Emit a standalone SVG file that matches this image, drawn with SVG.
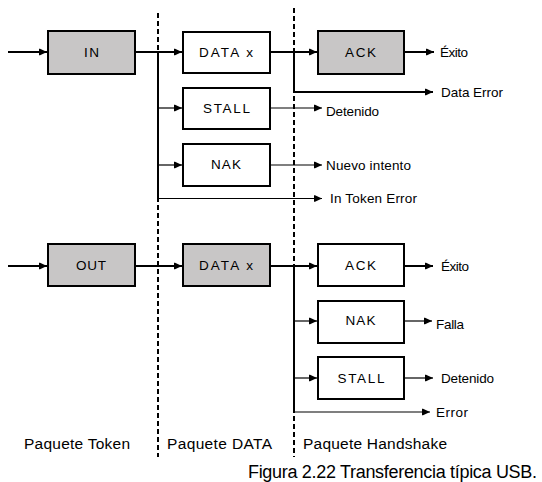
<svg xmlns="http://www.w3.org/2000/svg" width="542" height="482" viewBox="0 0 542 482">
<defs>
<marker id="ah" markerUnits="userSpaceOnUse" markerWidth="10" markerHeight="8" refX="9" refY="4" orient="auto">
<path d="M1,0.8 H2 L9,4 L2,7.2 H1 Z" fill="#000"/>
</marker>
<style>
.box{stroke:#000;stroke-width:2}
.g{fill:#c8c6c6}
.w{fill:#fff}
.bl{font-family:"Liberation Sans",Arial,sans-serif;font-size:13.5px;fill:#000;text-anchor:middle}
.lb{font-family:"Liberation Sans",Arial,sans-serif;font-size:13.5px;fill:#000}
.pk{font-family:"Liberation Sans",Arial,sans-serif;font-size:15.5px;fill:#000}
.thick{fill:none;stroke:#000;stroke-width:2}
.thin{fill:none;stroke:#000;stroke-width:1.2}
.dash{fill:none;stroke:#000;stroke-width:2;stroke-dasharray:5,3}
</style>
</defs>
<rect width="542" height="482" fill="#fff"/>
<g id="separators">
<line class="dash" x1="158" y1="13" x2="158" y2="457"/>
<line class="dash" x1="294" y1="8" x2="294" y2="457"/>
</g>
<g id="connectors">
<path class="thick" d="M8,52 H47" marker-end="url(#ah)"/>
<path class="thick" d="M135,52 H182" marker-end="url(#ah)"/>
<path class="thick" d="M158,52 V198"/>
<path class="thin" d="M158,108 H182" marker-end="url(#ah)"/>
<path class="thin" d="M158,165 H182" marker-end="url(#ah)"/>
<path class="thin" d="M158,198.5 H322" marker-end="url(#ah)"/>
<path class="thick" d="M270,52 H317" marker-end="url(#ah)"/>
<path class="thick" d="M294,52 V92 H433" marker-end="url(#ah)"/>
<path class="thick" d="M404,52 H434" marker-end="url(#ah)"/>
<path class="thin" d="M270,108 H322" marker-end="url(#ah)"/>
<path class="thin" d="M270,165 H322" marker-end="url(#ah)"/>
<path class="thick" d="M8,266 H47" marker-end="url(#ah)"/>
<path class="thick" d="M135,266 H182" marker-end="url(#ah)"/>
<path class="thick" d="M270,266 H317" marker-end="url(#ah)"/>
<path class="thick" d="M294,266 V412"/>
<path class="thin" d="M294,321 H317" marker-end="url(#ah)"/>
<path class="thin" d="M294,378 H317" marker-end="url(#ah)"/>
<path class="thin" d="M294,412 H430" marker-end="url(#ah)"/>
<path class="thick" d="M404,266 H433" marker-end="url(#ah)"/>
<path class="thin" d="M404,321 H432" marker-end="url(#ah)"/>
<path class="thin" d="M404,378 H433" marker-end="url(#ah)"/>
</g>
<g id="in"><rect class="box g" x="48" y="31" width="87" height="43"/><text class="bl" x="91.5" y="57" textLength="15">IN</text></g>
<g id="datax1"><rect class="box w" x="183" y="32" width="87" height="41"/><text class="bl" x="226" y="57" textLength="54">DATA x</text></g>
<g id="stall1"><rect class="box w" x="183" y="88" width="87" height="41"/><text class="bl" x="226.5" y="113" textLength="47">STALL</text></g>
<g id="nak1"><rect class="box w" x="183" y="144" width="87" height="42"/><text class="bl" x="226" y="169" textLength="30">NAK</text></g>
<g id="ack1"><rect class="box g" x="318" y="31" width="86" height="43"/><text class="bl" x="360.5" y="57" textLength="31">ACK</text></g>
<g id="out"><rect class="box g" x="48" y="244" width="87" height="42"/><text class="bl" x="91" y="270" textLength="30">OUT</text></g>
<g id="datax2"><rect class="box g" x="183" y="244" width="87" height="42"/><text class="bl" x="226" y="270" textLength="54">DATA x</text></g>
<g id="ack2"><rect class="box w" x="318" y="244" width="86" height="42"/><text class="bl" x="360.5" y="270" textLength="31">ACK</text></g>
<g id="nak2"><rect class="box w" x="318" y="301" width="86" height="42"/><text class="bl" x="360.5" y="325" textLength="30">NAK</text></g>
<g id="stall2"><rect class="box w" x="318" y="357" width="86" height="42"/><text class="bl" x="361" y="383" textLength="47">STALL</text></g>
<g id="labels">
<text class="lb" x="440" y="57" textLength="28">Éxito</text>
<text class="lb" x="441" y="97" textLength="62">Data Error</text>
<text class="lb" x="326" y="116" textLength="53">Detenido</text>
<text class="lb" x="326" y="170" textLength="85">Nuevo intento</text>
<text class="lb" x="330" y="203" textLength="87">In Token Error</text>
<text class="lb" x="441" y="270.5" textLength="28">Éxito</text>
<text class="lb" x="436" y="329" textLength="28">Falla</text>
<text class="lb" x="441" y="383" textLength="53">Detenido</text>
<text class="lb" x="436" y="416.5" textLength="32">Error</text>
<text class="pk" x="24" y="449" textLength="106">Paquete Token</text>
<text class="pk" x="167" y="449" textLength="105">Paquete DATA</text>
<text class="pk" x="303" y="449" textLength="144">Paquete Handshake</text>
<text x="248" y="478" font-family="'Liberation Sans',Arial,sans-serif" font-size="18" textLength="289" fill="#000">Figura 2.22 Transferencia típica USB.</text>
</g>
</svg>
